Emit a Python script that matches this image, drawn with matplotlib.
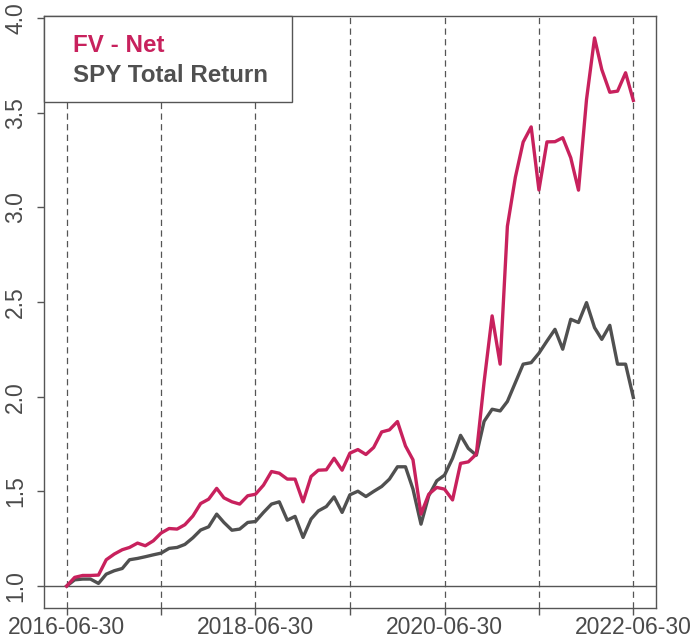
import matplotlib
matplotlib.use("Agg")
import matplotlib.pyplot as plt
import matplotlib.dates as mdates
import pandas as pd
import numpy as np
from matplotlib.patches import Rectangle

plt.rcParams['font.family'] = ['Liberation Sans', 'DejaVu Sans']

start_date = "2016-06-30"
n_months = 73

fv_net = [1.000, 1.046, 1.056, 1.056, 1.058, 1.139, 1.169, 1.192, 1.204, 1.227,
          1.213, 1.239, 1.280, 1.304, 1.301, 1.324, 1.370, 1.436, 1.459, 1.516,
          1.466, 1.445, 1.433, 1.477, 1.485, 1.533, 1.605, 1.596, 1.565, 1.565,
          1.445, 1.579, 1.612, 1.614, 1.675, 1.612, 1.702, 1.721, 1.695, 1.732,
          1.814, 1.825, 1.869, 1.740, 1.667, 1.380, 1.485, 1.521, 1.512, 1.455,
          1.648, 1.656, 1.697, 2.078, 2.427, 2.172, 2.900, 3.160, 3.345, 3.425,
          3.092, 3.346, 3.347, 3.368, 3.262, 3.091, 3.570, 3.895, 3.728, 3.608,
          3.614, 3.711, 3.565]

spy_tr = [1.000, 1.033, 1.037, 1.037, 1.014, 1.063, 1.081, 1.093, 1.139, 1.146,
          1.155, 1.165, 1.174, 1.199, 1.204, 1.220, 1.255, 1.296, 1.313, 1.380,
          1.336, 1.295, 1.301, 1.336, 1.341, 1.389, 1.433, 1.445, 1.348, 1.368,
          1.257, 1.354, 1.397, 1.420, 1.471, 1.389, 1.482, 1.501, 1.473, 1.500,
          1.526, 1.565, 1.630, 1.630, 1.512, 1.327, 1.477, 1.556, 1.586, 1.675,
          1.796, 1.727, 1.691, 1.870, 1.934, 1.925, 1.975, 2.075, 2.172, 2.180,
          2.230, 2.294, 2.356, 2.251, 2.409, 2.392, 2.497, 2.365, 2.303, 2.377,
          2.172, 2.172, 1.996]

series_names = ["FV - Net", "SPY Total Return"]
series_colors = ["#C8215D", "#505050"]

tick_dates = ["2016-06-30", "2017-06-30", "2018-06-30", "2019-06-30",
              "2020-06-30", "2021-06-30", "2022-06-30"]
tick_labels = ["2016-06-30", "", "2018-06-30", "", "2020-06-30", "", "2022-06-30"]
y_ticks = [1.0, 1.5, 2.0, 2.5, 3.0, 3.5, 4.0]

dates = pd.date_range(start_date, periods=n_months, freq="ME")
xnum = mdates.date2num(dates.to_pydatetime())

fig = plt.figure(figsize=(7, 6.4), dpi=100)
ax = fig.add_axes([44/700, 1-608/640, (656-44)/700, (608-16)/640])

axis_col = "#555555"
tnum = mdates.date2num(pd.to_datetime(tick_dates).to_pydatetime())
for t in tnum:
    ax.axvline(t, color=axis_col, lw=0.9, ls=(0, (5, 3.5)), zorder=1)
ax.axhline(1.0, color=axis_col, lw=1.0, zorder=1)

ax.plot(xnum, spy_tr, color=series_colors[1], lw=2.4, zorder=3, solid_joinstyle='round')
ax.plot(xnum, fv_net, color=series_colors[0], lw=2.4, zorder=4, solid_joinstyle='round')

allv = np.array(fv_net + spy_tr)
ymin, ymax = allv.min(), allv.max()
yr = ymax - ymin
ax.set_ylim(ymin - 0.04*yr, ymax + 0.04*yr)
xr = xnum[-1] - xnum[0]
ax.set_xlim(xnum[0] - 0.04*xr, xnum[-1] + 0.04*xr)

ax.set_xticks(tnum)
ax.set_xticklabels(tick_labels)
ax.set_yticks(y_ticks)
ax.set_yticklabels([f"{v:.1f}" for v in y_ticks], rotation=90, va='center')
ax.tick_params(axis='both', colors=axis_col, labelcolor="#4a4a4a", labelsize=16.5,
               length=5, width=1.0)
ax.tick_params(axis='y', pad=7)
ax.tick_params(axis='x', pad=0.5)
for s in ax.spines.values():
    s.set_color(axis_col)
    s.set_linewidth(1.0)

# legend box (top-left)
ax.add_patch(Rectangle((0, (608-102)/592), (292-44)/612, 1 - (608-102)/592,
                       transform=ax.transAxes, facecolor="white",
                       edgecolor=axis_col, lw=1.0, zorder=6, clip_on=False))
ax.text((73-44)/612, (608-45)/592, series_names[0], transform=ax.transAxes,
        color=series_colors[0], fontsize=17.4, fontweight='bold', va='center',
        ha='left', zorder=7)
ax.text((73-44)/612, (608-75)/592, series_names[1], transform=ax.transAxes,
        color=series_colors[1], fontsize=17.4, fontweight='bold', va='center',
        ha='left', zorder=7)

fig.savefig("out.png", dpi=100)
